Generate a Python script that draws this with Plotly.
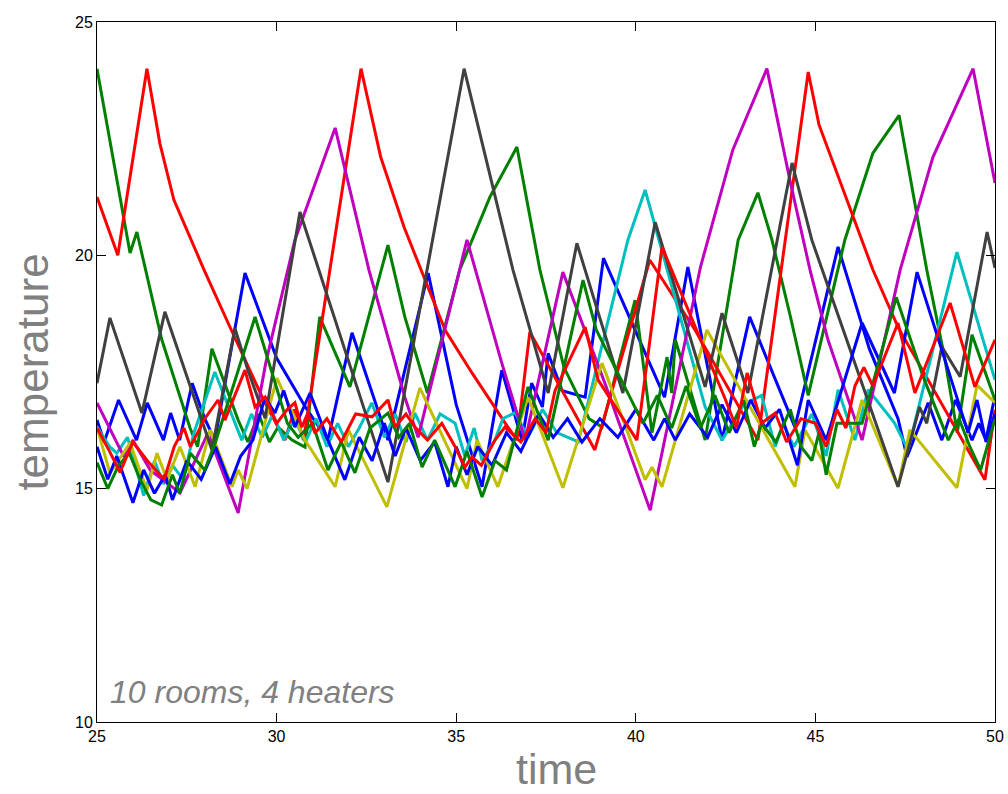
import plotly.graph_objects as go

# ---- data (time, temperature) per room ----
b1_t = [25, 25.2, 25.6, 26.1, 26.4, 26.85, 27.05, 27.3, 27.65, 28.0, 28.28, 29.12, 30.0, 30.8, 31.43, 32.1, 33.1, 34.22, 35.0, 35.72, 36.27, 36.83, 37.1, 37.4, 37.56, 37.95, 38.59, 39.1, 40.8, 41.45, 42.4, 43.17, 44.43, 45.63, 46.5, 47.3, 47.55, 48.14, 48.52, 48.9, 49.36, 49.55, 49.75, 50]
b1_v = [16.47, 16.0, 16.9, 16.04, 16.84, 16.04, 16.62, 16.04, 17.26, 16.5, 16.04, 19.62, 17.8, 16.75, 16.04, 18.34, 16.04, 19.62, 16.8, 15.04, 17.54, 16.04, 17.26, 16.75, 17.9, 17.1, 16.96, 19.94, 16.96, 19.75, 16.04, 18.68, 16.32, 20.18, 18.0, 16.5, 15.68, 16.84, 16.04, 16.9, 16.04, 16.4, 16.04, 17.0]

ga_t = [25, 25.92, 26.11, 26.8, 27.59, 27.8, 28.2, 28.93, 29.2, 29.5, 29.8, 30.04, 30.43, 30.79, 31.2, 32.04, 33.1, 33.57, 34.2, 35.1, 35.94, 36.69, 37.33, 38.0, 38.7, 39.06, 39.98, 40.45, 40.87, 41.0, 41.1, 41.93, 42.85, 43.4, 43.79, 44.3, 44.8, 45.82, 46.6, 47.33, 48.1, 48.6, 48.95, 49.36, 50]
ga_v = [24.0, 20.05, 20.5, 18.2, 16.3, 15.9, 18.0, 16.47, 16.0, 16.6, 16.0, 16.32, 16.04, 15.89, 18.68, 17.18, 20.22, 18.68, 17.05, 19.69, 21.25, 22.32, 19.69, 17.6, 16.5, 16.32, 19.04, 16.2, 17.82, 17.05, 18.19, 16.04, 20.33, 21.34, 20.33, 18.7, 17.0, 20.33, 22.19, 23.0, 19.69, 17.8, 16.2, 18.3, 16.9]

r1_t = [25, 25.58, 26.39, 26.75, 27.14, 27.98, 28.65, 29.6, 30.23, 30.5, 30.75, 32.35, 32.9, 33.55, 34.69, 35.44, 36.36, 36.69, 37.05, 38.86, 40.39, 41.65, 43.4, 44.8, 45.1, 45.49, 46.6, 47.3, 49.72, 50]
r1_v = [21.25, 20.0, 24.0, 22.4, 21.19, 19.69, 18.55, 16.96, 16.04, 16.7, 16.04, 24.0, 22.1, 20.6, 18.4, 17.48, 16.41, 16.04, 18.36, 15.83, 19.9, 18.4, 16.04, 23.93, 22.8, 21.98, 19.69, 18.46, 15.19, 16.69]

c_t = [25, 25.35, 25.55, 25.85, 26.3, 26.6, 26.85, 27.1, 27.4, 27.7, 28.28, 29.03, 29.3, 29.6, 29.9, 30.2, 30.5, 30.8, 31.1, 31.4, 31.7, 32.0, 32.3, 32.65, 33.0, 33.3, 33.6, 33.85, 34.2, 34.55, 34.97, 35.24, 35.5, 35.72, 36.08, 36.3, 36.64, 37.0, 37.4, 37.8, 38.4, 39.78, 40.26, 40.87, 41.93, 42.4, 43.0, 43.5, 43.88, 44.1, 44.4, 44.9, 45.3, 45.63, 46.1, 46.47, 47.2, 47.58, 48.94, 50]
c_v = [16.32, 15.9, 15.76, 16.1, 14.85, 15.6, 15.1, 15.5, 15.2, 16.2, 17.5, 16.04, 16.6, 16.1, 16.6, 16.04, 16.5, 16.0, 16.5, 15.9, 16.4, 15.9, 16.3, 16.84, 16.1, 16.6, 16.0, 16.62, 16.04, 16.6, 16.4, 15.7, 16.3, 15.6, 16.04, 16.5, 16.63, 16.1, 16.7, 16.2, 16.0, 20.33, 21.4, 19.69, 16.75, 16.04, 16.8, 17.0, 15.9, 16.4, 15.9, 16.6, 15.7, 17.12, 16.04, 17.12, 16.41, 15.83, 20.07, 17.33]

m_t = [25, 25.75, 26.0, 26.48, 27.31, 28.09, 28.93, 29.7, 30.51, 31.63, 32.57, 33.57, 33.94, 35.3, 36.27, 36.92, 37.97, 39.14, 40.4, 41.8, 42.7, 43.65, 44.29, 44.85, 45.35, 46.3, 47.36, 48.27, 49.39, 50]
m_v = [16.84, 15.68, 16.04, 15.4, 14.91, 16.19, 14.48, 17.7, 20.33, 22.73, 19.69, 16.96, 16.1, 20.33, 17.69, 16.04, 19.64, 17.26, 14.54, 19.75, 22.26, 24.0, 21.61, 19.69, 18.19, 16.04, 19.69, 22.1, 24.0, 21.55]

y_t = [25, 25.36, 25.92, 26.39, 26.67, 26.95, 27.31, 27.73, 28.15, 28.76, 28.93, 29.18, 30.01, 30.79, 31.63, 32.0, 33.07, 33.99, 35.3, 35.58, 36.16, 37.0, 37.97, 39.06, 40.26, 40.45, 40.73, 41.98, 44.43, 44.71, 45.63, 46.3, 47.3, 47.63, 48.94, 49.5, 50]
y_v = [16.32, 15.33, 15.98, 14.97, 15.76, 15.19, 15.9, 15.04, 16.26, 15.04, 15.4, 15.0, 17.37, 16.04, 15.04, 16.26, 14.61, 17.16, 15.0, 16.04, 15.04, 16.96, 15.02, 17.69, 15.19, 15.46, 15.04, 18.4, 15.04, 16.26, 15.01, 16.9, 15.04, 16.26, 15.02, 17.22, 16.84]

k_t = [25, 25.36, 26.25, 26.89, 28.2, 28.84, 29.2, 29.68, 30.65, 33.1, 35.22, 36.58, 37.56, 38.36, 39.64, 40.54, 41.93, 42.4, 43.12, 44.35, 44.9, 47.3, 47.9, 48.1, 48.52, 49.03, 49.78, 50]
k_v = [17.26, 18.66, 16.62, 18.79, 15.83, 18.44, 17.54, 16.51, 20.93, 15.14, 24.0, 19.69, 17.05, 20.26, 17.05, 20.71, 17.18, 18.76, 17.05, 21.98, 20.33, 15.04, 16.75, 16.4, 18.04, 17.4, 20.5, 19.73]

b2_t = [25, 25.3, 25.55, 26.0, 26.3, 26.6, 26.9, 27.1, 27.5, 27.9, 28.3, 28.7, 29.0, 29.34, 29.68, 29.95, 30.2, 30.51, 30.93, 31.43, 31.9, 32.3, 32.66, 33.0, 33.3, 33.6, 34.0, 34.4, 34.77, 35.0, 35.3, 35.6, 36.0, 36.4, 36.8, 37.3, 37.7, 38.1, 38.5, 39.0, 39.5, 40.0, 40.5, 40.8, 41.1, 41.5, 42.0, 42.4, 42.8, 43.2, 43.6, 44.0, 44.5, 44.8, 45.3, 46.3, 47.2, 47.83, 49.25, 49.5, 49.75, 50]
b2_v = [15.9, 15.2, 15.7, 14.7, 15.4, 14.9, 15.3, 14.76, 15.6, 15.2, 15.9, 15.1, 15.7, 16.04, 16.96, 16.62, 17.1, 16.32, 17.05, 16.04, 15.19, 16.1, 15.6, 16.4, 15.7, 16.3, 15.6, 16.0, 15.04, 15.9, 15.3, 15.9, 15.5, 16.2, 15.8, 16.6, 16.1, 16.5, 16.0, 16.5, 16.1, 16.7, 16.04, 16.5, 16.04, 16.6, 16.1, 16.8, 16.2, 16.9, 16.3, 16.7, 15.5, 16.9, 16.04, 18.55, 17.05, 19.64, 16.2, 16.9, 16.0, 16.6]

gb_t = [25, 25.3, 25.6, 25.9, 26.2, 26.5, 26.8, 27.1, 27.3, 27.6, 28.0, 28.3, 29.4, 30.3, 30.6, 31.0, 31.43, 31.8, 32.18, 32.6, 33.1, 33.4, 33.7, 34.05, 34.4, 34.97, 35.3, 35.72, 36.08, 36.4, 37.0, 37.56, 38.53, 38.9, 39.64, 40.2, 40.6, 41.0, 41.4, 41.8, 42.2, 42.6, 43.0, 43.3, 43.5, 43.9, 44.3, 44.6, 44.9, 45.1, 45.3, 45.6, 46.3, 47.25, 48.0, 48.7, 49.0, 49.3, 49.6, 50]
gb_v = [15.56, 15.0, 15.5, 15.76, 15.2, 14.76, 14.65, 15.3, 14.9, 15.76, 15.4, 16.0, 18.68, 16.4, 16.1, 16.4, 15.4, 16.0, 15.34, 16.3, 16.62, 16.1, 16.4, 15.46, 16.04, 15.04, 15.8, 14.82, 15.6, 15.4, 17.18, 16.04, 19.47, 18.4, 17.26, 16.4, 17.0, 16.3, 17.2, 16.3, 17.0, 16.2, 16.9, 15.9, 16.4, 16.0, 16.7, 15.9, 15.6, 16.2, 15.3, 16.4, 16.4, 19.1, 17.4, 16.04, 16.5, 15.9, 15.4, 16.5]

r2_t = [25, 25.35, 25.64, 26.0, 26.4, 26.87, 27.15, 27.42, 27.6, 28.0, 28.37, 28.56, 29.12, 29.4, 29.68, 30.0, 30.3, 30.51, 30.7, 30.87, 31.07, 31.4, 31.8, 32.2, 32.66, 33.1, 33.3, 33.6, 33.85, 34.2, 34.6, 34.97, 35.24, 35.44, 35.7, 36.08, 36.36, 36.8, 37.2, 37.5, 37.75, 38.59, 38.95, 40.03, 40.73, 41.93, 42.5, 42.8, 43.1, 43.5, 43.88, 44.2, 44.6, 45.0, 45.3, 45.6, 45.85, 46.1, 46.35, 46.6, 47.3, 47.77, 48.75, 49.44, 50]
r2_v = [16.3, 15.8, 15.35, 16.0, 15.6, 15.2, 15.9, 16.3, 15.9, 16.5, 16.9, 16.47, 17.54, 16.75, 16.96, 16.4, 16.7, 16.84, 16.32, 16.62, 16.19, 16.5, 16.0, 16.6, 16.54, 16.9, 16.32, 16.6, 16.32, 16.04, 16.4, 15.9, 15.46, 15.68, 15.5, 16.04, 16.32, 16.0, 16.5, 16.2, 17.1, 18.46, 17.33, 16.04, 20.18, 17.97, 16.9, 16.3, 17.48, 16.4, 16.62, 16.0, 16.5, 16.4, 15.9, 16.7, 16.3, 17.2, 17.6, 17.2, 18.55, 17.05, 18.98, 17.18, 18.19]

series = [
    (b1_t, b1_v, "#0000FF"),
    (ga_t, ga_v, "#008000"),
    (r1_t, r1_v, "#FF0000"),
    (c_t, c_v, "#00BFBF"),
    (m_t, m_v, "#BF00BF"),
    (y_t, y_v, "#BFBF00"),
    (k_t, k_v, "#404040"),
    (b2_t, b2_v, "#0000FF"),
    (gb_t, gb_v, "#008000"),
    (r2_t, r2_v, "#FF0000"),
]

fig = go.Figure()
for t, v, col in series:
    fig.add_trace(go.Scatter(x=t, y=v, mode="lines",
                             line=dict(color=col, width=3),
                             showlegend=False, hoverinfo="skip"))

font_family = "Liberation Sans, Arial, sans-serif"
fig.update_layout(
    width=1008, height=794, autosize=False,
    margin=dict(l=97, r=13, t=22, b=72),
    paper_bgcolor="white", plot_bgcolor="white",
    font=dict(family=font_family, color="black"),
)
fig.update_xaxes(range=[25, 50], tickvals=[25, 30, 35, 40, 45, 50],
                 ticks="inside", ticklen=9, tickcolor="black",
                 showline=True, linecolor="black", linewidth=1, mirror="allticks",
                 showgrid=False, zeroline=False, automargin=False,
                 tickfont=dict(size=16, color="black", family=font_family))
fig.update_yaxes(range=[10, 25], tickvals=[10, 15, 20, 25],
                 ticks="inside", ticklen=9, tickcolor="black",
                 showline=True, linecolor="black", linewidth=1, mirror="allticks",
                 showgrid=False, zeroline=False, automargin=False,
                 tickfont=dict(size=16, color="black", family=font_family),
                 title=dict(text="temperature", font=dict(size=44, color="#808080", family=font_family), standoff=12))
# x-axis label placed as text below the axes, kept fully inside the page
fig.add_annotation(x=0.512, y=-0.1025, xref="paper", yref="paper", text="time",
                   showarrow=False, xanchor="center", yanchor="bottom",
                   borderpad=0,
                   font=dict(size=43, color="#808080", family=font_family))
fig.add_annotation(x=25.3, y=10.64, xref="x", yref="y", text="<i>10 rooms, 4 heaters</i>",
                   showarrow=False, xanchor="left", yanchor="middle",
                   font=dict(size=32, color="#808080", family=font_family))

fig.write_html("out.html")
